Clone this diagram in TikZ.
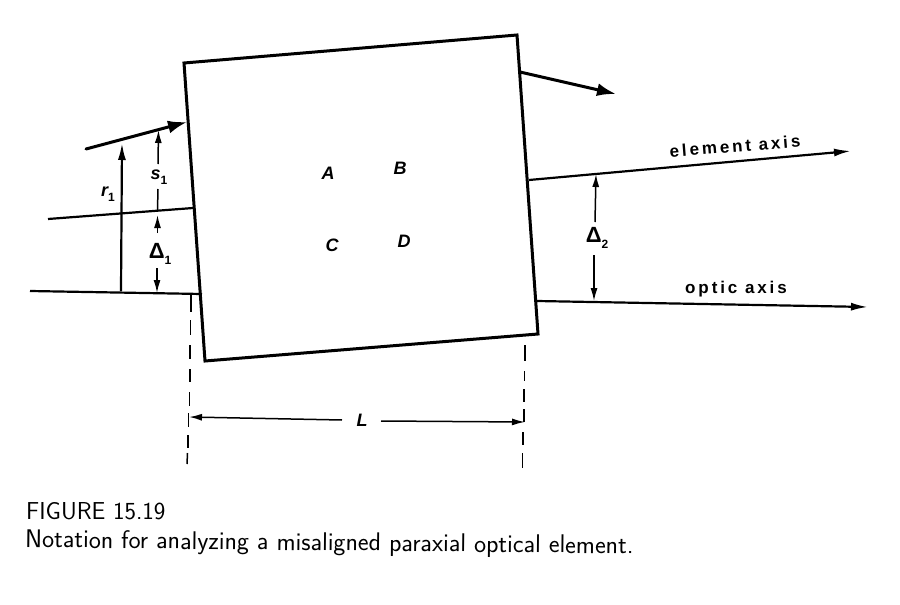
\documentclass[tikz,border=0pt]{standalone}
\usepackage{fontspec}
\setmainfont{Latin Modern Sans}
\newfontfamily\labelfont[LetterSpace=17]{Liberation Sans}
\newfontfamily\plainfont{Liberation Sans}
\usetikzlibrary{arrows.meta}
\newcommand{\subnum}[1]{\raisebox{-5pt}{\fontsize{12}{13}\selectfont\upshape #1}}
\newcommand{\bigdelta}[1]{{\plainfont\bfseries\fontsize{22}{24}\selectfont Δ}\raisebox{-6pt}{\plainfont\bfseries\fontsize{12}{13}\selectfont #1}}
\tikzset{
 heavy/.style={line width=3pt,line cap=round},
 medium/.style={line width=2.2pt},
 thin line/.style={line width=1.5pt},
 bigtip/.style={-{Latex[length=19pt,width=13pt]}},
 midtip/.style={-{Latex[length=17pt,width=8pt]}},
 smalltip/.style={-{Latex[length=13pt,width=7pt]}},
 lab/.style={inner sep=0pt,font=\labelfont\bfseries\fontsize{17}{19}\selectfont},
 ital/.style={inner sep=0pt,font=\plainfont\bfseries\itshape\fontsize{18}{20}\selectfont},
 captext/.style={inner sep=0pt,anchor=west,font=\fontsize{24.5}{28}\selectfont},
 captextb/.style={inner sep=0pt,anchor=west,font=\fontsize{25.6}{29}\selectfont},
 dash seg/.style={line width=1.5pt}
}
\begin{document}
\begin{tikzpicture}[x=1pt,y=-1pt]
\useasboundingbox (0,0) rectangle (900,605);
\fill[white] (0,0) rectangle (900,605);
\coordinate (c1) at (184,63);
\coordinate (c2) at (517,35);
\coordinate (c3) at (538,334);
\coordinate (c4) at (205,361);
\draw[heavy,line join=miter] (c1) -- (c2) -- (c3) -- (c4) -- cycle;
\coordinate (inA) at (86,149); \coordinate (inB) at (187,122);
\draw[heavy,bigtip] (inA) -- (inB);
\coordinate (outA) at (520,72); \coordinate (outB) at (616,94);
\draw[heavy,bigtip] (outA) -- (outB);
\coordinate (eL) at (48,219); \coordinate (eLe) at (193,208);
\draw[medium] (eL) -- (eLe);
\coordinate (oL) at (30,291); \coordinate (oLe) at (202,294);
\draw[medium] (oL) -- (oLe);
\coordinate (eR) at (529,180); \coordinate (eRe) at (851,151);
\draw[medium,midtip] (eR) -- (eRe);
\coordinate (oR) at (537,301); \coordinate (oRe) at (868,307);
\draw[medium,midtip] (oR) -- (oRe);
\node[lab,rotate=4.5] (tE) at (735,146) {element axis};
\node[lab] (tO) at (736,289) {optic axis};
\coordinate (r0) at (121,291); \coordinate (r1) at (122,143);
\draw[medium,midtip] (r0) -- (r1);
\node[ital] (tr) at (108,194) {r\subnum{1}};
\node[ital] (ts) at (159,177) {s\subnum{1}};
\node[inner sep=0pt] (td1) at (160,254) {\bigdelta{1}};
\node[inner sep=0pt] (td2) at (597,238) {\bigdelta{2}};
\draw[thin line,smalltip] (158,164) -- (158.5,130);
\draw[thin line] (158,189) -- (157.5,210);
\draw[thin line,smalltip] (157.5,233) -- (157.5,215);
\draw[thin line,smalltip] (157,268) -- (157,293);
\draw[thin line,smalltip] (595,222) -- (596,174);
\draw[thin line,smalltip] (594,255) -- (594,301);
\node[ital] (nA) at (328,173) {A};
\node[ital] (nB) at (400,168) {B};
\node[ital] (nC) at (332,245) {C};
\node[ital] (nD) at (404,241) {D};
\node[ital] (nL) at (362,420) {L};
\coordinate (dl) at (189,417); \coordinate (dr) at (525,422);
\draw[thin line,smalltip] (342,420) -- (dl);
\draw[thin line,smalltip] (381,421) -- (dr);
\foreach \a/\b/\xa/\xb in {295/312/191/191,320/335/190.5/190.5,345/359/190/190,369/382/190/190,392/406/189.5/189.5,413/427/188.5/188.5,435/448/188/188,453/464/187.5/187}
  \draw[dash seg] (\xa,\a) -- (\xb,\b);
\foreach \a/\b/\xa/\xb in {345/361/525/525,371/381/524.5/524.5,389/402/524/524,409/422/524/524,432/445/523/523,453/468/522.5/522.5}
  \draw[dash seg] (\xa,\a) -- (\xb,\b);
\node[captext] (c1t) at (26,511) {FIGURE\ 15.19};
\node[captextb,rotate=-0.6] (c2t) at (25,541) {Notation for analyzing a misaligned paraxial optical element.};
\end{tikzpicture}
\end{document}
